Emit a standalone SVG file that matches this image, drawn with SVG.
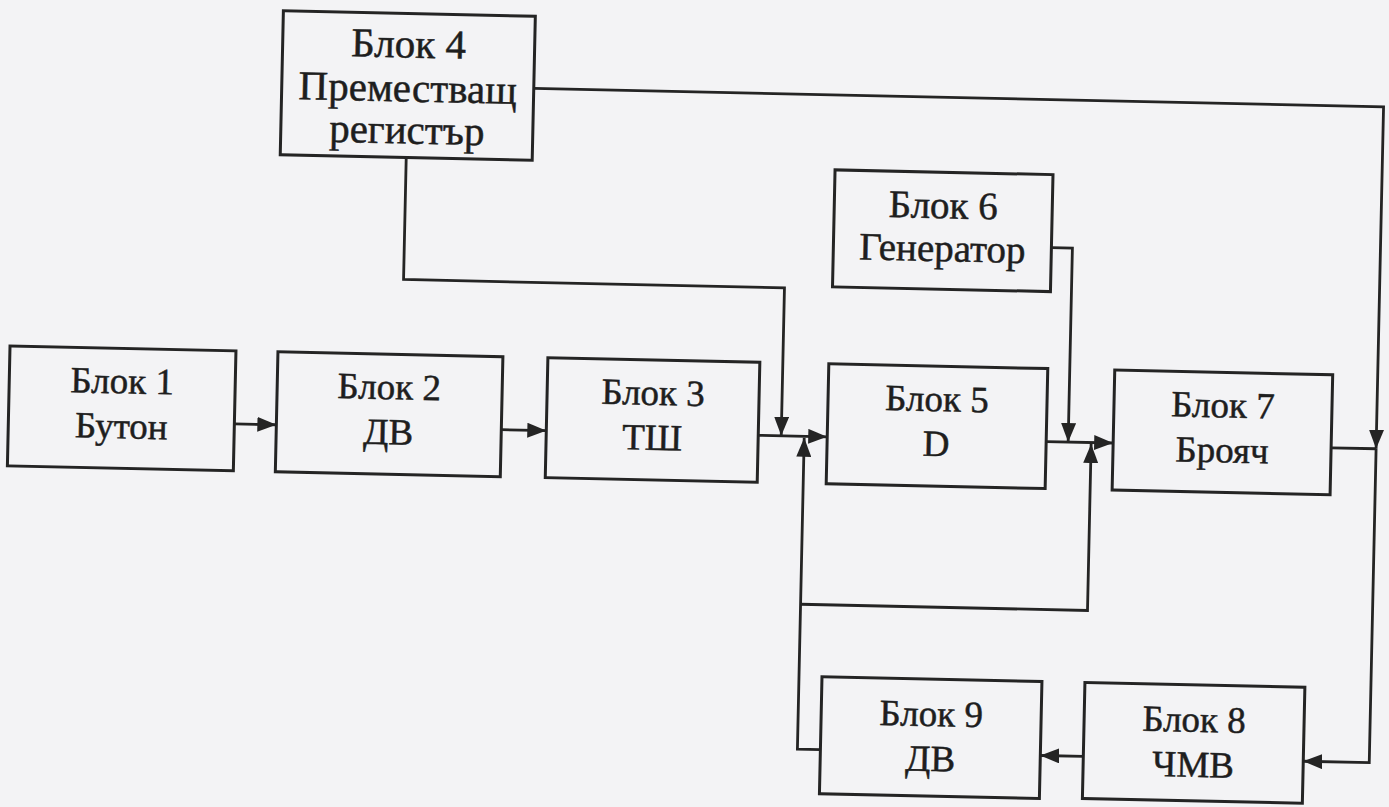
<svg xmlns="http://www.w3.org/2000/svg" width="1389" height="807" viewBox="0 0 1389 807">
<style>
.box{fill:none;stroke:#242424;stroke-width:3}
.wire{fill:none;stroke:#242424;stroke-width:2.8}
.lbl{font-family:"Liberation Serif","Times New Roman",serif;font-size:37px;fill:#1e1e1e;stroke:#1e1e1e;stroke-width:0.5;text-anchor:middle}
.big{font-size:41px}
.mid{font-size:39px}
</style>
<defs>
<marker id="ah" viewBox="0 0 19 15" refX="19" refY="7.5" markerWidth="19" markerHeight="15" markerUnits="userSpaceOnUse" orient="auto">
<path d="M0,0 L19,7.5 L0,15 z" fill="#242424"/>
</marker>
</defs>
<rect width="1389" height="807" fill="#f3f3f5"/>
<g transform="rotate(1.25 700 400)">
<g id="block1"><rect class="box" x="9" y="361" width="226" height="120"/><text class="lbl" x="122" y="406">Блок 1</text><text class="lbl" x="122" y="451">Бутон</text></g>
<g id="block2"><rect class="box" x="277" y="361" width="225" height="120"/><text class="lbl" x="389" y="406">Блок 2</text><text class="lbl" x="389" y="451">ДВ</text></g>
<g id="block3"><rect class="box" x="547" y="361" width="212" height="120"/><text class="lbl" x="653" y="406">Блок 3</text><text class="lbl" x="653" y="451">ТШ</text></g>
<g id="block4"><rect class="box" x="275" y="20" width="252" height="144"/><text class="lbl big" x="401" y="64">Блок 4</text><text class="lbl big" x="401" y="108">Преместващ</text><text class="lbl big" x="401" y="150">регистър</text></g>
<g id="block5"><rect class="box" x="828" y="361" width="219" height="120"/><text class="lbl" x="937" y="406">Блок 5</text><text class="lbl" x="937" y="451">D</text></g>
<g id="block6"><rect class="box" x="830" y="167" width="218" height="117"/><text class="lbl mid" x="939" y="213">Блок 6</text><text class="lbl mid" x="939" y="256">Генератор</text></g>
<g id="block7"><rect class="box" x="1114" y="361" width="218" height="120"/><text class="lbl" x="1223" y="406">Блок 7</text><text class="lbl" x="1223" y="451">Брояч</text></g>
<g id="block8"><rect class="box" x="1091" y="674" width="220" height="116"/><text class="lbl" x="1201" y="721">Блок 8</text><text class="lbl" x="1201" y="766">ЧМВ</text></g>
<g id="block9"><rect class="box" x="828" y="674" width="220" height="117"/><text class="lbl" x="938" y="721">Блок 9</text><text class="lbl" x="938" y="766">ДВ</text></g>
<g id="connectors">
<path class="wire" d="M235,434 H277" marker-end="url(#ah)"/>
<path class="wire" d="M502,434 H547" marker-end="url(#ah)"/>
<path class="wire" d="M759,434 H828" marker-end="url(#ah)"/>
<path class="wire" d="M1047,434 H1114" marker-end="url(#ah)"/>
<path class="wire" d="M1332,434 H1377"/>
<path class="wire" d="M527,92 H1377 V434" marker-end="url(#ah)"/>
<path class="wire" d="M1377,434 V748 H1311" marker-end="url(#ah)"/>
<path class="wire" d="M401,164 V286 H782 V434" marker-end="url(#ah)"/>
<path class="wire" d="M1048,240 H1069 V434" marker-end="url(#ah)"/>
<path class="wire" d="M828,747 H805 V435.5" marker-end="url(#ah)"/>
<path class="wire" d="M805,602 H1092 V435.5" marker-end="url(#ah)"/>
<path class="wire" d="M1091,748 H1048" marker-end="url(#ah)"/>
</g>
</g>
</svg>
